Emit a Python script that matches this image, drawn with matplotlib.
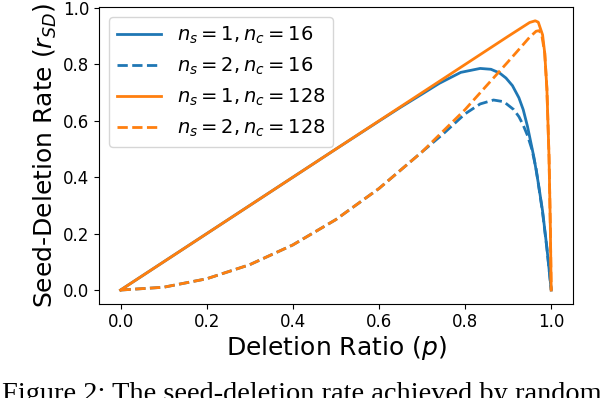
import matplotlib
matplotlib.use("Agg")
import matplotlib.pyplot as plt

# values
p_s1_c16 = [0, 0.1, 0.2, 0.3, 0.4, 0.5, 0.6, 0.65, 0.7, 0.74, 0.79, 0.835, 0.86, 0.88, 0.895, 0.91, 0.925, 0.935, 0.945, 0.96, 0.97, 0.98, 0.99, 0.998, 1.0]
r_s1_c16 = [0, 0.1, 0.2, 0.3, 0.4, 0.5, 0.599, 0.648, 0.695, 0.733, 0.772, 0.786, 0.783, 0.77, 0.752, 0.725, 0.682, 0.64, 0.58, 0.47, 0.38, 0.28, 0.15, 0.03, 0.0]

p_s2_c16 = [0, 0.1, 0.2, 0.3, 0.4, 0.5, 0.6, 0.7, 0.75, 0.8, 0.835, 0.866, 0.89, 0.913, 0.925, 0.935, 0.945, 0.955, 0.965, 0.98, 0.99, 0.998, 1.0]
r_s2_c16 = [0, 0.01, 0.04, 0.09, 0.16, 0.25, 0.36, 0.49, 0.555, 0.625, 0.66, 0.674, 0.668, 0.64, 0.615, 0.585, 0.548, 0.5, 0.43, 0.275, 0.148, 0.03, 0.0]

p_s1_c128 = [0, 0.1, 0.2, 0.3, 0.4, 0.5, 0.6, 0.7, 0.8, 0.9, 0.95, 0.963, 0.97, 0.98, 0.985, 0.99, 0.995, 0.998, 1.0]
r_s1_c128 = [0, 0.1, 0.2, 0.3, 0.4, 0.5, 0.6, 0.7, 0.8, 0.9, 0.949, 0.955, 0.95, 0.905, 0.84, 0.714, 0.47, 0.224, 0.0]

p_s2_c128 = [0, 0.1, 0.2, 0.3, 0.4, 0.5, 0.6, 0.7, 0.8, 0.9, 0.93, 0.95, 0.965, 0.972, 0.978, 0.985, 0.99, 0.995, 0.998, 1.0]
r_s2_c128 = [0, 0.01, 0.04, 0.09, 0.16, 0.25, 0.36, 0.49, 0.64, 0.81, 0.862, 0.897, 0.918, 0.92, 0.905, 0.84, 0.714, 0.47, 0.224, 0.0]

labels = [r'$n_s=1, n_c=16$', r'$n_s=2, n_c=16$', r'$n_s=1, n_c=128$', r'$n_s=2, n_c=128$']

fig = plt.figure(figsize=(6.06, 3.98), dpi=100)
ax = fig.add_axes([0.1634, 0.2374, 0.7817, 0.7442])

ax.plot(p_s1_c16, r_s1_c16, color='tab:blue', lw=2, label=labels[0])
ax.plot(p_s2_c16, r_s2_c16, color='tab:blue', lw=2, ls='--', label=labels[1])
ax.plot(p_s1_c128, r_s1_c128, color='tab:orange', lw=2, label=labels[2])
ax.plot(p_s2_c128, r_s2_c128, color='tab:orange', lw=2, ls='--', label=labels[3])

ax.set_xlabel(r'Deletion Ratio ($p$)', fontsize=18, labelpad=2)
ax.set_ylabel(r'Seed-Deletion Rate ($r_{SD}$)', fontsize=18, labelpad=3)
ax.tick_params(labelsize=12)
ax.legend(loc='upper left', fontsize=14, handlelength=2.3)

# caption line, cut by the bottom edge as in the source image
fig.text(0.004, -3 / 398, 'Figure 2: The seed-deletion rate achieved by random',
         family='Liberation Serif', fontsize=20.4, va='baseline', ha='left')

fig.savefig('out.png', dpi=100)
